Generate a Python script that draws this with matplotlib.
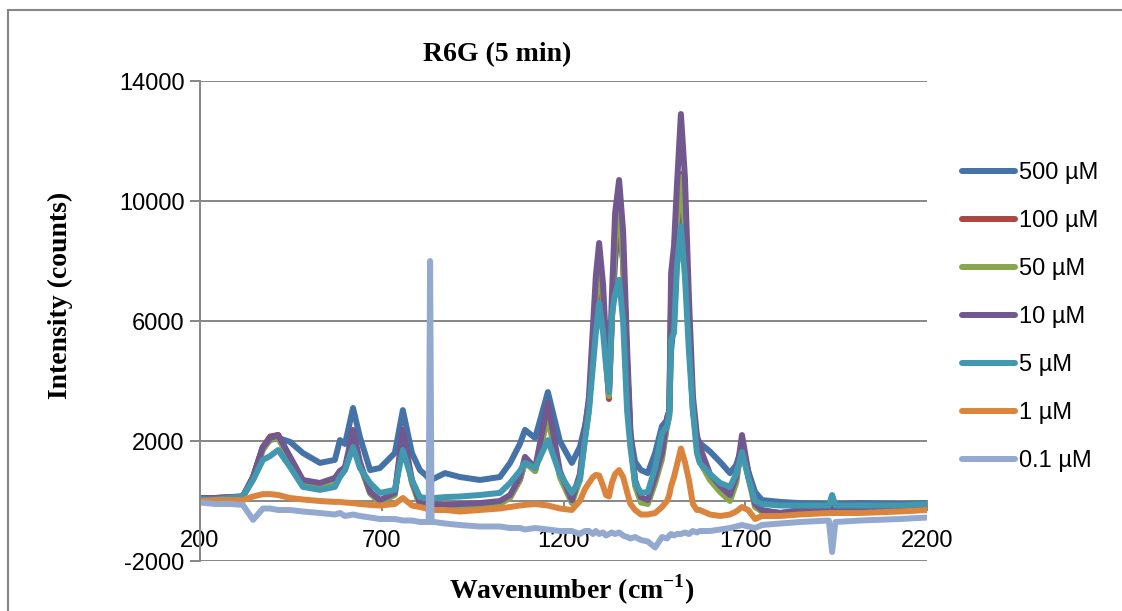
import matplotlib.pyplot as plt
from matplotlib.lines import Line2D

plt.rcParams['mathtext.fontset'] = 'custom'
plt.rcParams['mathtext.rm'] = 'Liberation Serif:bold'
plt.rcParams['mathtext.bf'] = 'Liberation Serif:bold'
plt.rcParams['axes.unicode_minus'] = False

# wavenumber grid (cm-1) shared by all series
wavenumber = [
    200, 241, 283, 318, 346, 373, 393, 415, 448, 483,
    530, 571, 585, 599, 621, 640, 668, 695, 736, 758,
    783, 805, 822, 829, 833, 837, 844, 874, 915, 970,
    1025, 1053, 1080, 1094, 1122, 1157, 1190, 1223, 1245, 1259,
    1270, 1281, 1289, 1298, 1309, 1317, 1325, 1333, 1342, 1353,
    1364, 1375, 1384, 1397, 1413, 1432, 1452, 1471, 1485, 1491,
    1496, 1504, 1512, 1523, 1534, 1545, 1556, 1567, 1575, 1603,
    1631, 1658, 1675, 1691, 1708, 1727, 1746, 1796, 1851, 1930,
    1939, 1948, 2016, 2126, 2200,
]

i_500 = [
    50, 30, 100, 150, 800, 1800, 2030, 2100, 1970, 1600,
    1270, 1370, 2030, 1900, 3100, 2130, 1030, 1100, 1600, 3030,
    1600, 1030, 850, 750, 700, 700, 750, 930, 800, 700,
    800, 1270, 1900, 2370, 2100, 3630, 2000, 1270, 1800, 2500,
    3300, 4800, 6300, 7500, 6200, 4800, 3700, 6000, 8000, 9500,
    8000, 4500, 2200, 1300, 1030, 930, 1600, 2500, 2700, 3000,
    5000, 6000, 8000, 10500, 8500, 5500, 3000, 2100, 1930, 1650,
    1300, 930, 1200, 1800, 1000, 300, 30, -30, -70, -100,
    -50, -100, -70, -100, -70,
]

i_100 = [
    100, 100, 130, 150, 800, 1800, 2150, 2200, 1400, 650,
    550, 700, 950, 1100, 2200, 1250, 300, 0, 250, 2200,
    650, -100, -150, -150, -150, -150, -150, -150, -130, -100,
    -30, 150, 700, 1300, 1000, 2900, 900, 0, 800, 2200,
    3200, 5200, 6800, 7500, 6400, 4700, 3400, 6000, 8600, 9400,
    8000, 4600, 2100, 600, 50, -50, 700, 1500, 2600, 2900,
    6800, 7600, 9200, 10900, 9200, 6000, 3200, 1900, 1500, 800,
    400, 100, 700, 2000, 900, -150, -350, -400, -350, -300,
    -300, -300, -300, -300, -300,
]

i_50 = [
    80, 80, 120, 150, 750, 1700, 2050, 2100, 1350, 600,
    500, 650, 1000, 1100, 2100, 1200, 250, -50, 200, 2100,
    600, -150, -200, -200, -200, -200, -200, -200, -200, -150,
    -100, 100, 700, 1300, 1000, 2800, 800, -70, 700, 2100,
    3100, 5100, 6800, 7800, 6600, 4800, 3500, 6200, 8800, 9700,
    8000, 4500, 2000, 500, -50, -100, 600, 1400, 2500, 2800,
    6500, 7400, 9300, 10800, 9200, 6000, 3100, 1800, 1300, 700,
    300, 0, 600, 1900, 800, -200, -350, -400, -350, -300,
    -300, -300, -300, -300, -300,
]

i_10 = [
    100, 100, 130, 150, 800, 1800, 2100, 2200, 1470, 700,
    600, 770, 1000, 1130, 2370, 1300, 300, 30, 270, 2370,
    700, -70, -100, -100, -100, -100, -100, -130, -100, -70,
    0, 200, 800, 1470, 1100, 3270, 1000, 30, 900, 2370,
    3470, 5800, 7500, 8600, 7200, 5200, 3700, 6800, 9600, 10700,
    9000, 5100, 2370, 700, 130, 30, 800, 1600, 2800, 3000,
    7600, 8500, 10500, 12900, 10800, 6800, 3500, 2200, 1800, 900,
    500, 200, 800, 2200, 1000, -100, -300, -400, -300, -250,
    -250, -250, -250, -250, -250,
]

i_5 = [
    50, 50, 100, 150, 700, 1370, 1500, 1700, 1130, 470,
    370, 470, 800, 1030, 1800, 1100, 600, 270, 370, 1700,
    700, 130, 100, 100, 100, 100, 100, 130, 150, 200,
    270, 600, 1000, 1270, 1100, 2030, 900, 270, 700, 2030,
    3000, 4500, 5600, 6600, 5600, 4500, 3630, 6200, 6900, 7370,
    6000, 3000, 1800, 600, 270, 300, 1100, 2270, 2500, 2900,
    5400, 5600, 7800, 9150, 7500, 5000, 3000, 1600, 1270, 900,
    600, 470, 900, 1630, 800, 0, -100, -150, -150, -150,
    200, -150, -150, -150, -100,
]

i_1 = [
    0, 30, 30, 30, 150, 230, 230, 200, 100, 50,
    0, -30, -30, -50, -70, -100, -130, -150, -100, 100,
    -150, -200, -250, -300, -300, -300, -300, -300, -350, -300,
    -250, -200, -150, -130, -100, -150, -250, -300, 0, 400,
    600, 800, 870, 850, 500, 200, 150, 600, 900, 1030,
    800, 300, -100, -300, -450, -450, -400, -200, 0, 200,
    500, 800, 1200, 1750, 1300, 700, -100, -300, -300, -450,
    -500, -450, -350, -200, -300, -600, -500, -500, -450, -400,
    -400, -400, -400, -350, -300,
]

i_01 = [
    -50, -100, -100, -130, -630, -250, -250, -300, -300, -350,
    -400, -450, -400, -500, -450, -500, -550, -600, -600, -650,
    -650, -700, -700, -700, 8000, -700, -700, -750, -800, -850,
    -850, -900, -900, -950, -900, -950, -1000, -1000, -1100, -1000,
    -1000, -1100, -1000, -1100, -1050, -1150, -1100, -1050, -1100, -1050,
    -1150, -1200, -1250, -1200, -1300, -1350, -1550, -1200, -1250, -1150,
    -1100, -1150, -1100, -1100, -1050, -1100, -1000, -1050, -1000, -1000,
    -950, -900, -850, -800, -850, -900, -800, -750, -700, -650,
    -1700, -700, -650, -600, -550,
]

series = [
    ("500 µM", i_500, "#4572A7"),
    ("100 µM", i_100, "#AA4643"),
    ("50 µM", i_50, "#89A54E"),
    ("10 µM", i_10, "#71588F"),
    ("5 µM", i_5, "#4198AF"),
    ("1 µM", i_1, "#DB843D"),
    ("0.1 µM", i_01, "#93A9CF"),
]

grey = "#868686"

fig = plt.figure(figsize=(11.22, 6.11), dpi=100)
ax = fig.add_axes([200 / 1122, 1 - 561 / 611, 727 / 1122, 480 / 611])

for label, vals, col in series:
    ax.plot(wavenumber, vals, color=col, lw=4.3, label=label,
            solid_capstyle="round", solid_joinstyle="round")

ax.set_xlim(200, 2200)
ax.set_ylim(-2000, 14000)
ax.set_xticks([200, 700, 1200, 1700, 2200])
ax.set_yticks([-2000, 2000, 6000, 10000, 14000])
ax.yaxis.grid(True, color=grey, lw=1.4)
ax.set_axisbelow(True)

for s in ("top", "right"):
    ax.spines[s].set_visible(False)
ax.spines["left"].set_color(grey)
ax.spines["left"].set_linewidth(1.4)
ax.spines["bottom"].set_position(("data", 0))
ax.spines["bottom"].set_color(grey)
ax.spines["bottom"].set_linewidth(1.4)
ax.spines["bottom"].set_zorder(0.5)

ax.tick_params(axis="y", direction="out", length=7, width=1.4, color=grey, pad=4)
ax.tick_params(axis="x", direction="out", length=7, width=1.4, color=grey, pad=14)
for t in ax.get_xticklabels() + ax.get_yticklabels():
    t.set_fontfamily("Liberation Sans")
    t.set_fontsize(17)

fig.text(497 / 1122, 1 - 55 / 611, "R6G (5 min)", ha="center", va="center",
         family="Liberation Serif", weight="bold", size=20)
fig.text(60 / 1122, 1 - 295 / 611, "Intensity (counts)", ha="center", va="center",
         rotation=90, family="Liberation Serif", weight="bold", size=20)
fig.text(572 / 1122, 1 - 590 / 611, r"Wavenumber (cm$^{-1}$)", ha="center",
         va="center", family="Liberation Serif", weight="bold", size=20)

ax.legend(loc="upper left", bbox_to_anchor=(962 / 1122, 1 - 162 / 611),
          bbox_transform=fig.transFigure, frameon=False,
          prop=dict(family="Liberation Sans", size=17),
          handlelength=2.25, handletextpad=0.15, labelspacing=1.1,
          borderaxespad=0, borderpad=0)

# chart area border (partly cropped in the original)
fig.add_artist(Line2D([8 / 1122, 8 / 1122], [0, 1 - 10 / 611], color=grey, lw=1.5))
fig.add_artist(Line2D([8 / 1122, 1], [1 - 10 / 611, 1 - 10 / 611], color=grey, lw=1.5))

fig.savefig("out.png", dpi=100)
